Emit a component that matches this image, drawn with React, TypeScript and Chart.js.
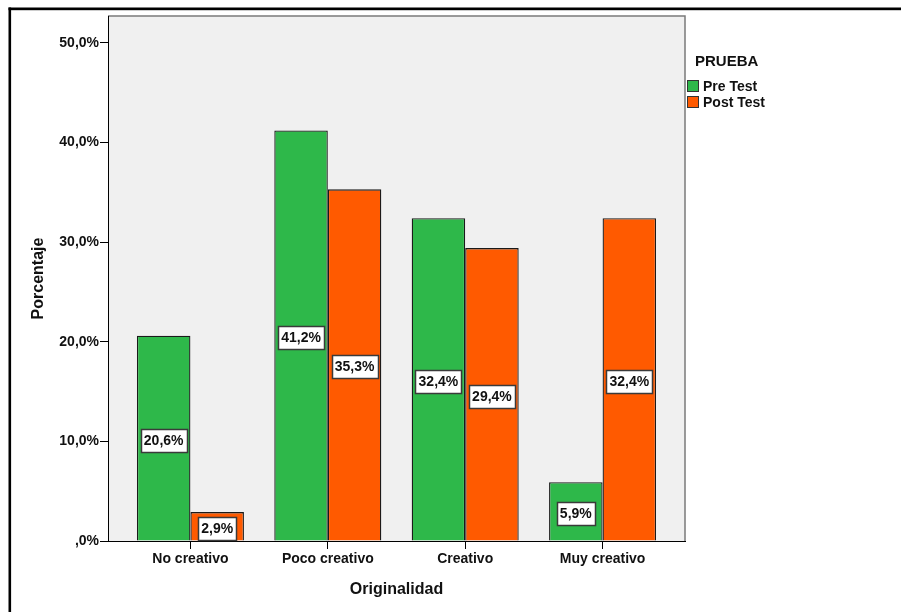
import React, { useEffect, useRef } from "react";
import { Chart, registerables } from "chart.js";

Chart.register(...registerables);

const categories = ["No creativo", "Poco creativo", "Creativo", "Muy creativo"];
const preTest = [20.6, 41.2, 32.4, 5.9];
const postTest = [2.9, 35.3, 29.4, 32.4];
const seriesNames = ["Pre Test", "Post Test"];
const legendTitle = "PRUEBA";
const yTickValues = [0, 10, 20, 30, 40, 50];
const yTickLabels = [",0%", "10,0%", "20,0%", "30,0%", "40,0%", "50,0%"];
const xTitle = "Originalidad";
const yTitle = "Porcentaje";

const GREEN = "#2eb84a";
const ORANGE = "#ff5a00";
const FONT = "'Liberation Sans', Arial, sans-serif";

const fmt = (v: number) => v.toFixed(1).replace(".", ",") + "%";

const decorPlugin = {
  id: "decor",
  beforeDraw(chart: any) {
    const { ctx, chartArea: a } = chart;
    ctx.save();
    ctx.fillStyle = "#f0f0f0";
    ctx.fillRect(a.left, a.top, a.right - a.left, a.bottom - a.top);
    ctx.strokeStyle = "#7a7a7a";
    ctx.lineWidth = 1.5;
    ctx.beginPath();
    ctx.moveTo(a.left, a.top);
    ctx.lineTo(a.right, a.top);
    ctx.lineTo(a.right, a.bottom);
    ctx.stroke();
    // outer frame
    ctx.fillStyle = "#000";
    ctx.fillRect(8.5, 7.5, 901, 2.7);
    ctx.fillRect(8.5, 7.5, 2.6, 612);
    ctx.restore();
  },
  afterDatasetsDraw(chart: any) {
    const { ctx } = chart;
    ctx.save();
    ctx.font = `bold 14px ${FONT}`;
    ctx.textAlign = "center";
    ctx.textBaseline = "middle";
    chart.data.datasets.forEach((ds: any, di: number) => {
      const meta = chart.getDatasetMeta(di);
      meta.data.forEach((el: any, i: number) => {
        const v = ds.data[i].y;
        const txt = fmt(v);
        const w = Math.round(ctx.measureText(txt).width + 6);
        const h = 23;
        const cx = el.x;
        const cy = (el.y + el.base) / 2 + 2;
        const bx = Math.round(cx - w / 2);
        const by = Math.round(cy - h / 2);
        ctx.fillStyle = "#fff";
        ctx.fillRect(bx, by, w, h);
        ctx.strokeStyle = "#3a3a3a";
        ctx.lineWidth = 1.5;
        ctx.strokeRect(bx + 0.5, by + 0.5, w, h);
        ctx.fillStyle = "#111";
        ctx.fillText(txt, cx, cy + 0.5);
      });
    });
    // legend
    ctx.textAlign = "left";
    ctx.fillStyle = "#111";
    ctx.font = `bold 15px ${FONT}`;
    ctx.fillText(legendTitle, 695, 62);
    ctx.font = `bold 14px ${FONT}`;
    chart.data.datasets.forEach((ds: any, di: number) => {
      const y = 80 + di * 16;
      ctx.fillStyle = ds.backgroundColor;
      ctx.fillRect(687, y, 12, 12);
      ctx.strokeStyle = "#333";
      ctx.lineWidth = 1;
      ctx.strokeRect(687.5, y + 0.5, 11, 11);
      ctx.fillStyle = "#111";
      ctx.fillText(ds.label, 703, y + 7);
    });
    ctx.restore();
  },
};

export default function App() {
  const ref = useRef<HTMLCanvasElement | null>(null);
  useEffect(() => {
    if (!ref.current) return;
    const chart = new Chart(ref.current, {
      type: "bar",
      data: {
        datasets: [
          {
            label: seriesNames[0],
            data: preTest.map((v, i) => ({ x: i, y: v })),
            backgroundColor: GREEN,
            borderColor: "#1a1a1a",
            borderWidth: 1.3,
          },
          {
            label: seriesNames[1],
            data: postTest.map((v, i) => ({ x: i, y: v })),
            backgroundColor: ORANGE,
            borderColor: "#1a1a1a",
            borderWidth: 1.3,
          },
        ],
      },
      options: {
        responsive: false,
        animation: false,
        devicePixelRatio: 1,
        layout: { padding: { left: 8, top: 16, right: 216, bottom: 0 } },
        plugins: { legend: { display: false }, tooltip: { enabled: false } },
        datasets: { bar: { categoryPercentage: 0.779, barPercentage: 1 } } as any,
        scales: {
          x: {
            type: "linear",
            min: -0.6,
            max: 3.6,
            offset: false,
            afterBuildTicks: (scale: any) => {
              scale.ticks = categories.map((_, i) => ({ value: i }));
            },
            afterFit: (scale: any) => {
              scale.height = 71;
            },
            ticks: {
              callback: (v: any) => categories[v as number] ?? "",
              color: "#111",
              font: { family: FONT, size: 14, weight: "bold" },
              padding: 2,
              maxRotation: 0,
              autoSkip: false,
            },
            grid: { display: true, offset: false, drawOnChartArea: false, drawTicks: true, tickLength: 8, tickColor: "#000" },
            border: { display: true, color: "#000", width: 1 },
            title: {
              display: true,
              text: xTitle,
              color: "#111",
              font: { family: FONT, size: 16, weight: "bold" },
              padding: { top: 0, bottom: 13 },
            },
          },
          y: {
            min: 0,
            max: 52.7,
            afterBuildTicks: (scale: any) => {
              scale.ticks = yTickValues.map((v) => ({ value: v }));
            },
            afterFit: (scale: any) => {
              scale.width = 100;
            },
            ticks: {
              callback: (v: any) => yTickLabels[yTickValues.indexOf(v as number)] ?? "",
              color: "#111",
              font: { family: FONT, size: 14, weight: "bold" },
              padding: 1,
            },
            grid: { display: true, drawOnChartArea: false, drawTicks: true, tickLength: 8, tickColor: "#000" },
            border: { display: true, color: "#000", width: 1 },
            title: {
              display: true,
              text: yTitle,
              color: "#111",
              font: { family: FONT, size: 16, weight: "bold" },
              padding: { top: 21, bottom: 0 },
            },
          },
        },
      },
      plugins: [decorPlugin],
    } as any);
    return () => chart.destroy();
  }, []);
  return (
    <div style={{ position: "absolute", left: 0, top: 0, width: 901, height: 612, background: "#fff" }}>
      <canvas ref={ref} width={901} height={612} style={{ display: "block" }} />
    </div>
  );
}
